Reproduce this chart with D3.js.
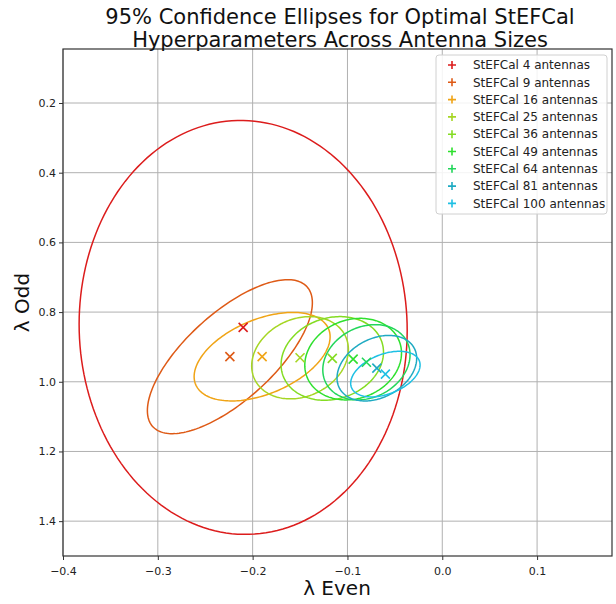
<!DOCTYPE html>
<html>
<head>
<meta charset="utf-8">
<script src="https://cdn.jsdelivr.net/npm/d3@7"></script>
<style>
  body { margin: 0; background: #fff; }
  svg { font-family: "DejaVu Sans", sans-serif; }
</style>
</head>
<body>
<div id="chart"></div>
<script>
// ─── data ───────────────────────────────────────────────────────────────────
const antennas   = [4, 9, 16, 25, 36, 49, 64, 81, 100];
const meanEven   = [-0.210, -0.224, -0.190, -0.150, -0.116, -0.094, -0.080, -0.069, -0.060];
const meanOdd    = [0.844, 0.928, 0.928, 0.931, 0.933, 0.935, 0.944, 0.961, 0.978];
// half extents of each 95% ellipse along the axes, and the correlation
const halfEven   = [0.173, 0.087, 0.0717, 0.051, 0.054, 0.051, 0.046, 0.042, 0.0366];
const halfOdd    = [0.594, 0.221, 0.127, 0.118, 0.120, 0.117, 0.108, 0.094, 0.0655];
const corr       = [0.015, -0.70, -0.45, -0.20, -0.15, -0.15, -0.20, -0.30, -0.40];
const colors     = ['#dc1c1c', '#de5a16', '#f0a416', '#a6d624', '#84dc22', '#2ee02e',
                    '#22d65a', '#1eaac2', '#1ec0e4'];
const xTicks     = [-0.4, -0.3, -0.2, -0.1, 0.0, 0.1];
const yTicks     = [0.2, 0.4, 0.6, 0.8, 1.0, 1.2, 1.4];

const W = 616, H = 604;
const M = { left: 63, right: 612, top: 49, bottom: 556 };

const svg = d3.select('#chart').append('svg').attr('width', W).attr('height', H);

const x = d3.scaleLinear().domain([-0.4, 0.179]).range([M.left, M.right]);
const y = d3.scaleLinear().domain([0.045, 1.5]).range([M.top, M.bottom]);

// grid
const grid = svg.append('g');
xTicks.forEach(t => grid.append('line')
    .attr('x1', x(t)).attr('x2', x(t)).attr('y1', M.top).attr('y2', M.bottom)
    .attr('stroke', '#b0b0b0').attr('stroke-width', 1));
yTicks.forEach(t => grid.append('line')
    .attr('x1', M.left).attr('x2', M.right).attr('y1', y(t)).attr('y2', y(t))
    .attr('stroke', '#b0b0b0').attr('stroke-width', 1));

// ellipses
const clip = svg.append('clipPath').attr('id', 'plotclip').append('rect')
    .attr('x', M.left).attr('y', M.top).attr('width', M.right - M.left).attr('height', M.bottom - M.top);
const plot = svg.append('g').attr('clip-path', 'url(#plotclip)');

const line = d3.line().x(d => x(d[0])).y(d => y(d[1]));
antennas.forEach((n, i) => {
    const pts = d3.range(0, 361, 2).map(deg => {
        const t = deg * Math.PI / 180;
        const r = corr[i];
        return [meanEven[i] + halfEven[i] * Math.cos(t),
                meanOdd[i] + halfOdd[i] * (r * Math.cos(t) + Math.sqrt(1 - r * r) * Math.sin(t))];
    });
    plot.append('path')
        .attr('d', line(pts))
        .attr('fill', 'none')
        .attr('stroke', colors[i])
        .attr('stroke-width', 1.5);
});

// centre markers (x)
antennas.forEach((n, i) => {
    const cx = x(meanEven[i]), cy = y(meanOdd[i]), s = 4.5;
    plot.append('path')
        .attr('d', `M${cx - s},${cy - s}L${cx + s},${cy + s}M${cx - s},${cy + s}L${cx + s},${cy - s}`)
        .attr('stroke', colors[i]).attr('stroke-width', 1.6).attr('fill', 'none');
});

// axes
const xAxis = svg.append('g').attr('transform', `translate(0,${M.bottom})`)
    .call(d3.axisBottom(x).tickValues(xTicks).tickSize(4).tickSizeOuter(0)
        .tickFormat(d => d3.format('.1f')(d).replace('-', '\u2212')));
const yAxis = svg.append('g').attr('transform', `translate(${M.left},0)`)
    .call(d3.axisLeft(y).tickValues(yTicks).tickSize(4).tickSizeOuter(0).tickFormat(d3.format('.1f')));
[xAxis, yAxis].forEach(a => {
    a.select('.domain').remove();
    a.selectAll('.tick line').attr('stroke', '#333');
    a.selectAll('.tick text').attr('fill', '#222').style('font-size', '11px')
        .style('font-family', '"DejaVu Sans", sans-serif');
});
xAxis.selectAll('.tick text').attr('dy', '1.05em');

// frame
svg.append('rect')
    .attr('x', M.left).attr('y', M.top)
    .attr('width', M.right - M.left).attr('height', M.bottom - M.top)
    .attr('fill', 'none').attr('stroke', '#333').attr('stroke-width', 1.2);

// labels
svg.append('text').attr('x', 337).attr('y', 595).attr('text-anchor', 'middle')
    .style('font-size', '20px').attr('fill', '#111').text('λ Even');
svg.append('text').attr('transform', `translate(29,${(M.top + M.bottom) / 2}) rotate(-90)`)
    .attr('text-anchor', 'middle').style('font-size', '20px').attr('fill', '#111').text('λ Odd');

const title = ['95% Confidence Ellipses for Optimal StEFCal', 'Hyperparameters Across Antenna Sizes'];
title.forEach((t, i) => svg.append('text').attr('x', 340).attr('y', 24 + i * 23)
    .attr('text-anchor', 'middle').style('font-size', '21px').attr('fill', '#111').text(t));

// legend
const lg = svg.append('g').attr('transform', 'translate(436,55)');
lg.append('rect').attr('width', 171).attr('height', 159).attr('rx', 3)
    .attr('fill', '#fff').attr('fill-opacity', 0.85).attr('stroke', '#d0d0d0');
antennas.forEach((n, i) => {
    const ry = 10 + i * 17.3;
    lg.append('path')
        .attr('d', `M${16 - 4},${ry}L${16 + 4},${ry}M16,${ry - 4}L16,${ry + 4}`)
        .attr('stroke', colors[i]).attr('stroke-width', 1.6);
    lg.append('text').attr('x', 37).attr('y', ry).attr('dy', '0.35em')
        .style('font-size', '12px').attr('fill', '#222').text(`StEFCal ${n} antennas`);
});
</script>
</body>
</html>
